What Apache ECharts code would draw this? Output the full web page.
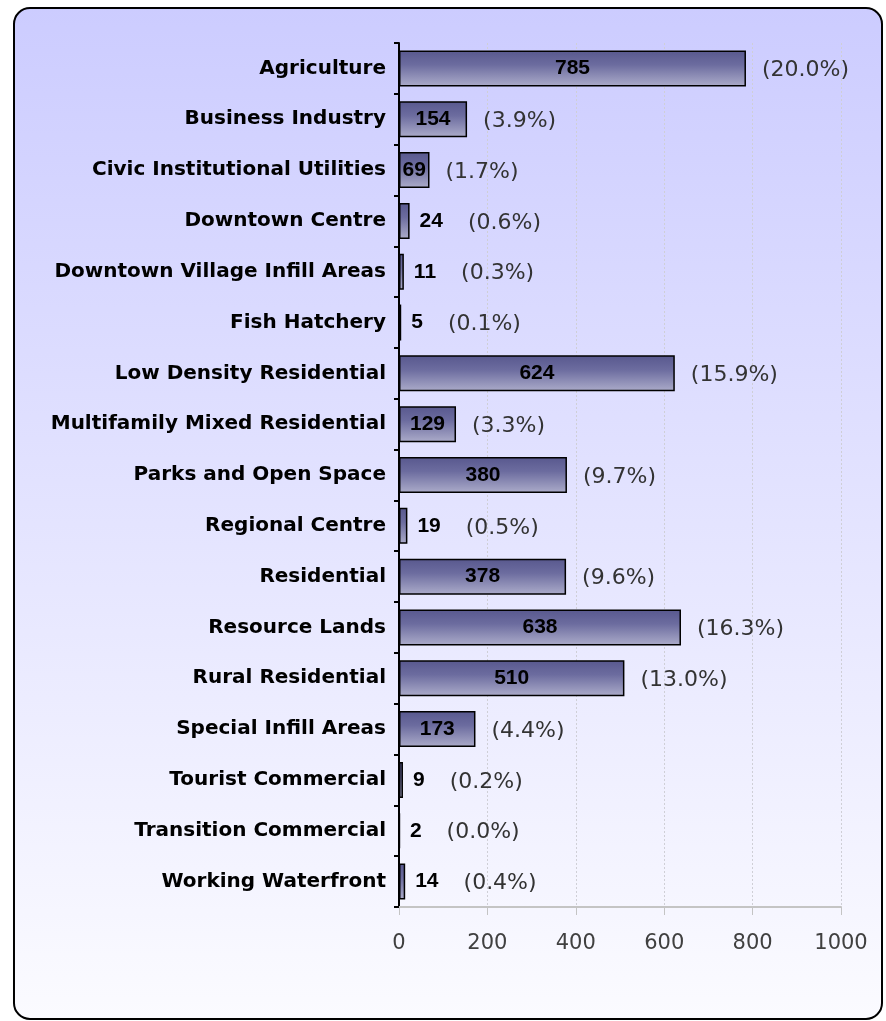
<!DOCTYPE html>
<html>
<head>
<meta charset="utf-8">
<script src="https://cdn.jsdelivr.net/npm/echarts@6/dist/echarts.min.js"></script>
<style>
  html, body { margin: 0; padding: 0; background: #fff; }
  #chart { width: 886px; height: 1021px; }
</style>
</head>
<body>
<div id="chart"></div>
<script>
var categories = [
    "Agriculture",
    "Business Industry",
    "Civic Institutional Utilities",
    "Downtown Centre",
    "Downtown Village Infill Areas",
    "Fish Hatchery",
    "Low Density Residential",
    "Multifamily Mixed Residential",
    "Parks and Open Space",
    "Regional Centre",
    "Residential",
    "Resource Lands",
    "Rural Residential",
    "Special Infill Areas",
    "Tourist Commercial",
    "Transition Commercial",
    "Working Waterfront"
];
var values = [785, 154, 69, 24, 11, 5, 624, 129, 380, 19, 378, 638, 510, 173, 9, 2, 14];
var shares = ["20.0%", "3.9%", "1.7%", "0.6%", "0.3%", "0.1%", "15.9%", "3.3%", "9.7%", "0.5%",
              "9.6%", "16.3%", "13.0%", "4.4%", "0.2%", "0.0%", "0.4%"];
var xTicks = [0, 200, 400, 600, 800, 1000];

var insideMin = 60; // below this the value goes outside the bar

var chartDom = document.getElementById("chart");
var myChart = echarts.init(chartDom);

var option = {
    animation: false,
    graphic: [{
        type: "rect",
        z: -10,
        silent: true,
        shape: { x: 14, y: 8, width: 868, height: 1011, r: 16 },
        style: {
            fill: new echarts.graphic.LinearGradient(0, 0, 0, 1, [
                { offset: 0, color: "#ccccff" },
                { offset: 1, color: "#fbfbff" }
            ]),
            stroke: "#000",
            lineWidth: 2
        }
    }],
    grid: { left: 399, right: 45, top: 43, bottom: 114 },
    xAxis: {
        type: "value",
        min: xTicks[0],
        max: xTicks[xTicks.length - 1],
        interval: 200,
        axisLine: { show: true, lineStyle: { color: "#c4c4c4", width: 2 } },
        axisTick: { show: true, length: 8, lineStyle: { color: "#c4c4c4", width: 1 } },
        axisLabel: {
            margin: 26,
            fontFamily: "DejaVu Sans",
            fontSize: 21,
            color: "#404040",
            formatter(v) {
                return String(v);
            }
        },
        splitLine: { show: true, lineStyle: { color: "#cfcfd6", type: [2, 2], width: 1 } }
    },
    yAxis: {
        type: "category",
        inverse: true,
        data: categories,
        axisLine: { show: true, lineStyle: { color: "#000", width: 2 } },
        axisTick: { show: true, length: 5, lineStyle: { color: "#000", width: 2 } },
        axisLabel: {
            margin: 13,
            fontFamily: "DejaVu Sans",
            fontWeight: "bold",
            fontSize: 20,
            color: "#000"
        }
    },
    series: [{
        name: "value",
        type: "bar",
        barWidth: 36,
        itemStyle: {
            color: new echarts.graphic.LinearGradient(0, 0, 0, 1, [
                { offset: 0, color: "#58588e" },
                { offset: 0.4, color: "#6c6c9f" },
                { offset: 1, color: "#acacca" }
            ]),
            borderColor: "#000",
            borderWidth: 1.5
        },
        label: {
            position: "inside",
            fontFamily: "Liberation Sans",
            fontWeight: "bold",
            fontSize: 21,
            color: "#000"
        },
        data: values.map(function(v) {
            return { value: v, label: { show: v >= insideMin } };
        })
    }, {
        name: "share",
        type: "bar",
        barWidth: 36,
        barGap: "-100%",
        silent: true,
        itemStyle: { color: "rgba(0,0,0,0)", borderWidth: 0 },
        label: {
            show: true,
            position: "right",
            formatter(p) {
                var s = "{p|(" + shares[p.dataIndex] + ")}";
                if (p.value < insideMin) {
                    return "{v|" + p.value + "}" + s;
                }
                return s;
            },
            rich: {
                v: {
                    fontFamily: "Liberation Sans",
                    fontWeight: "bold",
                    fontSize: 21,
                    color: "#000",
                    padding: [0, 25, 0, 0]
                },
                p: {
                    fontFamily: "DejaVu Sans",
                    fontSize: 22,
                    color: "#333",
                    padding: [4, 0, 0, 0]
                }
            }
        },
        data: values.map(function(v) {
            return { value: v, label: { distance: v < insideMin ? 10 : 16 } };
        })
    }]
};
myChart.setOption(option);
</script>
</body>
</html>
